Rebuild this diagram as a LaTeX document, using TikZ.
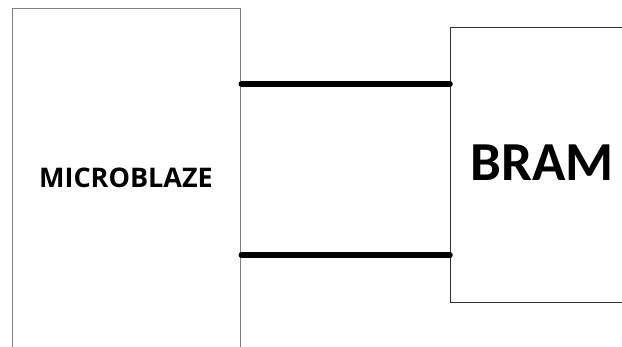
\documentclass[tikz,border=0pt]{standalone}
\usepackage{fontspec}
\setmainfont{Carlito}
\newfontfamily\opensans{Open Sans}
\begin{document}
\begin{tikzpicture}[x=1pt,y=-1pt]
\useasboundingbox (0,0) rectangle (622,347);
\clip (0,0) rectangle (622,347);
\node[draw=gray, line width=1.3pt, minimum width=228pt, minimum height=360pt, inner sep=0pt, anchor=north west] (micro) at (12,8) {};
\node[draw=black!80, line width=1pt, minimum width=200pt, minimum height=275pt, inner sep=0pt, anchor=north west] (bram) at (450,27) {};
\node[font=\opensans\bfseries\fontsize{27}{30}\selectfont] (microtext) at (126,177.5) {MICROBLAZE};
\node[font=\bfseries\fontsize{55}{60}\selectfont] (bramtext) at (542,162.5) {BRAM};
\coordinate (a1) at (micro.north east |- 0,84);
\coordinate (b1) at (bram.west |- 0,84);
\coordinate (a2) at (micro.north east |- 0,255);
\coordinate (b2) at (bram.west |- 0,255);
\draw[line width=5.5pt, line cap=round] (a1) -- (b1);
\draw[line width=5.5pt, line cap=round] (a2) -- (b2);
\end{tikzpicture}
\end{document}
